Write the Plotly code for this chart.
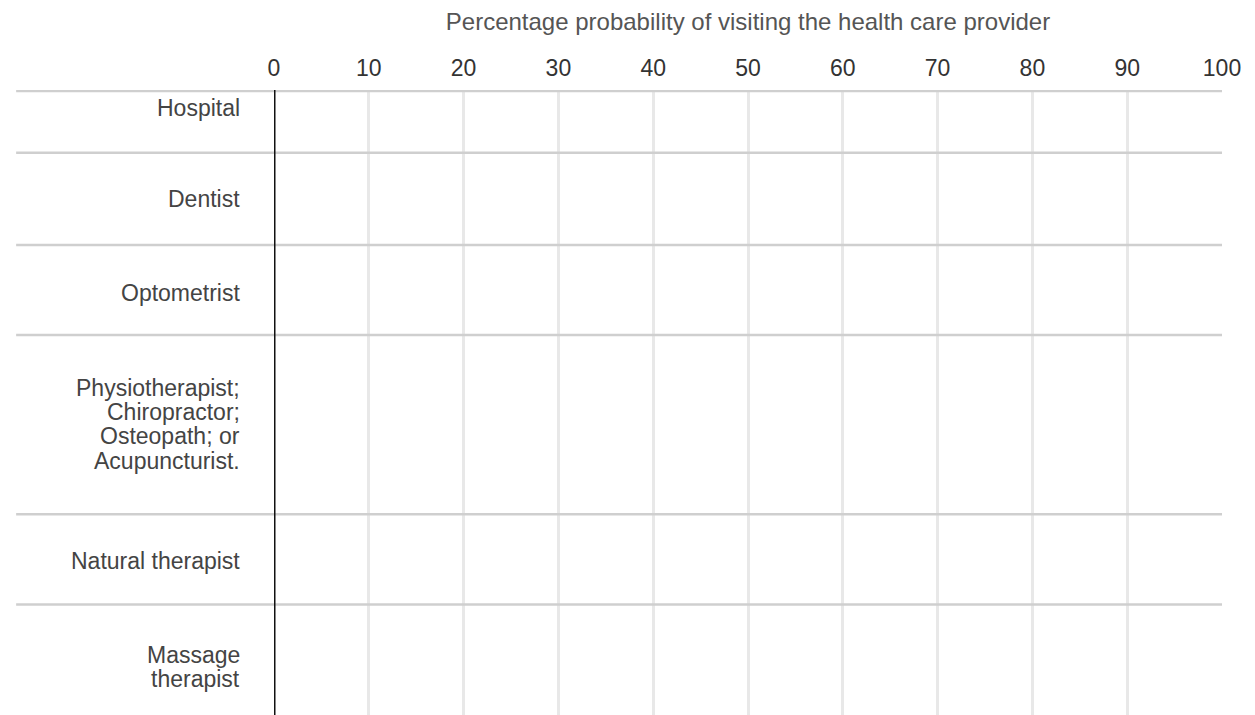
import plotly.graph_objects as go

categories = [["Hospital"], ["Dentist"], ["Optometrist"],
              ["Physiotherapist;", "Chiropractor;", "Osteopath; or", "Acupuncturist."],
              ["Natural therapist"], ["Massage", "therapist"]]
label_centers = [18, 108, 200, 330, 465, 570]
row_bounds = [1, 62, 153, 242, 419, 508]
x_ticks = list(range(0, 101, 10))
LINE_H = 24

fig = go.Figure()
fig.add_trace(go.Scatter(x=[None], y=[None], showlegend=False))

for yb in row_bounds:
    fig.add_shape(type="line", xref="paper", yref="y", x0=-0.272, x1=1.0,
                  y0=yb, y1=yb, line=dict(color="#cfcfcf", width=2.5), layer="above")
fig.add_shape(type="line", xref="x", yref="paper", x0=0, x1=0, y0=0, y1=1,
              line=dict(color="#111", width=3), layer="above")

for lines, yc in zip(categories, label_centers):
    n = len(lines)
    for i, ln in enumerate(lines):
        fig.add_annotation(text=ln, xref="paper", yref="y", x=-0.034,
                           y=yc + (i - (n - 1) / 2) * LINE_H,
                           xanchor="right", yanchor="middle", align="right",
                           showarrow=False, font=dict(size=23, color="#444"))

fig.update_layout(
    width=1255, height=715, margin=dict(l=266, r=41, t=82, b=0),
    plot_bgcolor="white", paper_bgcolor="white",
    font=dict(family="Liberation Sans, Arial", color="#444"),
    xaxis=dict(range=[0, 100], side="top", tickvals=x_ticks, showgrid=True,
               gridcolor="#e8e8e8", gridwidth=2.5, zeroline=False, showline=False,
               ticks="", tickfont=dict(size=23, color="#333"), ticklabelstandoff=8,
               title=dict(text="Percentage probability of visiting the health care provider",
                          font=dict(size=24, color="#555"), standoff=24)),
    yaxis=dict(range=[625, 0], showgrid=False, zeroline=False, showticklabels=False,
               showline=False, ticks=""),
)
fig.write_html("out.html")
